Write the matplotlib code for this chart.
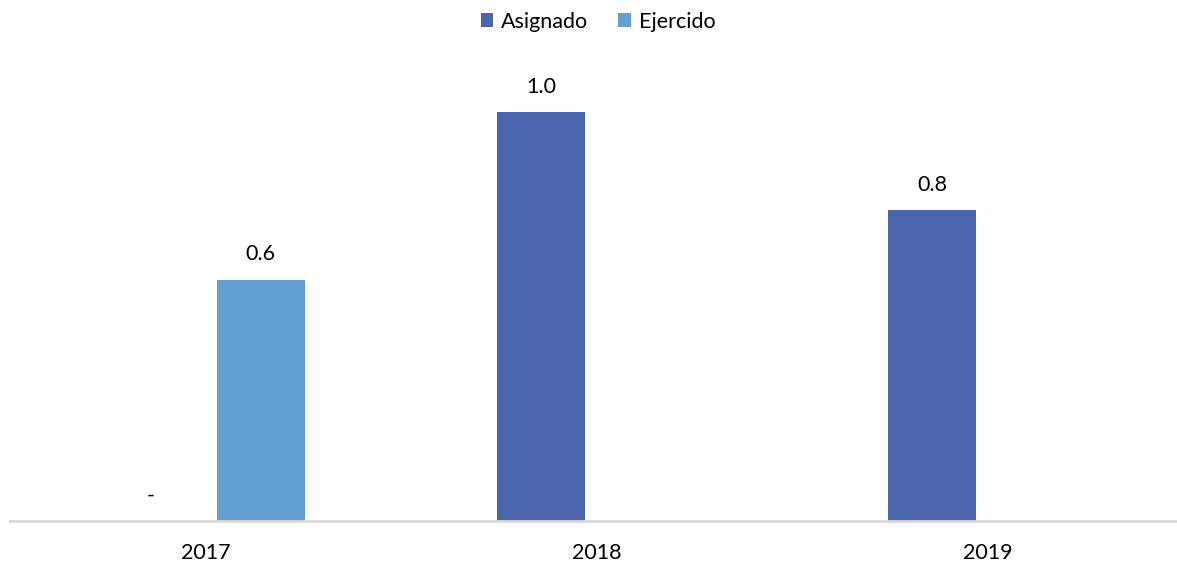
import numpy as np
import matplotlib.pyplot as plt

years = ["2017", "2018", "2019"]
asignado = [0.0, 1.0, 0.76]
ejercido = [0.59, np.nan, np.nan]

plt.rcParams['font.family'] = ['Lato', 'DejaVu Sans']

fig = plt.figure(figsize=(11.77, 5.67), dpi=100)
W, H = 1177, 567
base_y = 521
top_y = 40
ax = fig.add_axes([10 / W, (H - base_y) / H, (1183 - 10) / W, (base_y - top_y) / H])

x = np.arange(len(years))
width = 0.225
off = 0.141
c_asig = "#4a66ac"
c_ejer = "#629fd2"

ax.bar(x - off, asignado, width, color=c_asig, label="Asignado")
ax.bar(x + off, ejercido, width, color=c_ejer, label="Ejercido")

for xs, vals in [(x - off, asignado), (x + off, ejercido)]:
    for xi, v in zip(xs, vals):
        if np.isnan(v):
            continue
        txt = "-" if v == 0 else f"{v:.1f}"
        ax.annotate(txt, (xi, v), xytext=(0, 11), textcoords="offset points",
                    ha="center", va="bottom", fontsize=15.5)

ax.set_xlim(-0.5, 2.5)
ax.set_ylim(0, (base_y - top_y) / 409)
ax.set_xticks(x)
ax.set_xticklabels(years, fontsize=15.5)
ax.tick_params(axis="x", length=0, pad=16)
ax.set_yticks([])
for s in ["top", "right", "left"]:
    ax.spines[s].set_visible(False)
ax.spines["bottom"].set_color("#d9d9d9")
ax.spines["bottom"].set_linewidth(2)

fig.legend(loc="upper center", bbox_to_anchor=(0.508, 1.0), ncol=2, frameon=False,
           fontsize=15.5, handlelength=0.6, handleheight=0.6, handletextpad=0.35,
           columnspacing=1.4, borderaxespad=0.15)

fig.savefig("out.png", dpi=100)
